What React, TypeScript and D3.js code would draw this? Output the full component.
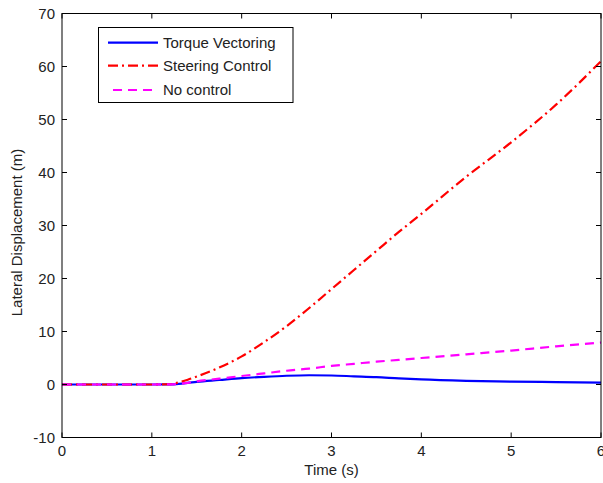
import React from "react";
import * as d3 from "d3";

const time = [0, 0.5, 1.0, 1.2, 1.3, 1.4, 1.5, 1.75, 2.0, 2.25, 2.5, 2.75, 3.0, 3.25, 3.5, 3.75, 4.0, 4.5, 5.0, 5.5, 6.0];
const torqueVectoring = [0, 0, 0, 0.02, 0.12, 0.3, 0.5, 0.85, 1.2, 1.45, 1.65, 1.75, 1.7, 1.55, 1.4, 1.15, 0.95, 0.7, 0.55, 0.45, 0.35];
const steeringControl = [0, 0, 0, 0.05, 0.4, 0.9, 1.5, 3.2, 5.3, 8.0, 11.0, 14.4, 18.0, 21.6, 25.2, 28.8, 32.2, 39.2, 45.7, 52.8, 61.0];
const noControl = [0, 0, 0, 0.02, 0.12, 0.3, 0.6, 1.1, 1.6, 2.1, 2.6, 3.0, 3.5, 3.9, 4.3, 4.65, 5.0, 5.7, 6.4, 7.2, 7.9];
const xTicks = [0, 1, 2, 3, 4, 5, 6];
const yTicks = [-10, 0, 10, 20, 30, 40, 50, 60, 70];
const seriesNames = ["Torque Vectoring", "Steering Control", "No control"];

const W = 603, H = 483;
const L = 62, R = 601, T = 13.5, B = 437.5;
const FONT = "'Liberation Sans', Arial, Helvetica, sans-serif";
const FS = 15;

export default function App() {
  const x = d3.scaleLinear().domain([0, 6]).range([L, R]);
  const y = d3.scaleLinear().domain([-10, 70]).range([B, T]);
  const mk = (vals: number[]) =>
    d3.line<number>().x((_, i) => x(time[i])).y((d) => y(d)).curve(d3.curveMonotoneX)(vals) || "";

  const styles = [
    { color: "#0000ff", dash: "none", data: torqueVectoring },
    { color: "#ff0000", dash: "10,4,2,4", data: steeringControl },
    { color: "#ff00ff", dash: "9,6", data: noControl },
  ];
  const legendY = [42.7, 65.7, 90];

  return (
    <svg width={W} height={H} style={{ position: "absolute", left: 0, top: 0, background: "#fff" }}>
      <defs>
        <clipPath id="plot">
          <rect x={L} y={T} width={R - L} height={B - T} />
        </clipPath>
      </defs>
      <rect x={0} y={0} width={W} height={H} fill="#fff" />
      <g clipPath="url(#plot)">
        {styles.map((s, i) => (
          <path key={i} d={mk(s.data)} fill="none" stroke={s.color} strokeWidth={2.2} strokeDasharray={s.dash} />
        ))}
      </g>
      <rect x={L} y={T} width={R - L} height={B - T} fill="none" stroke="#000" strokeWidth={1} />
      {xTicks.map((t) => (
        <g key={"x" + t}>
          <line x1={x(t)} x2={x(t)} y1={B} y2={B - 5} stroke="#000" />
          <line x1={x(t)} x2={x(t)} y1={T} y2={T + 5} stroke="#000" />
          <text x={x(t)} y={456} textAnchor="middle" fontFamily={FONT} fontSize={FS} fill="#222">
            {t}
          </text>
        </g>
      ))}
      {yTicks.map((t) => (
        <g key={"y" + t}>
          <line x1={L} x2={L + 5} y1={y(t)} y2={y(t)} stroke="#000" />
          <line x1={R} x2={R - 5} y1={y(t)} y2={y(t)} stroke="#000" />
          <text x={55} y={y(t) + 5} textAnchor="end" fontFamily={FONT} fontSize={FS} fill="#222">
            {t}
          </text>
        </g>
      ))}
      <text x={(L + R) / 2} y={475} textAnchor="middle" fontFamily={FONT} fontSize={FS} fill="#222">
        Time (s)
      </text>
      <text
        transform={`translate(22, ${(T + B) / 2 + 7}) rotate(-90)`}
        textAnchor="middle"
        fontFamily={FONT}
        fontSize={FS}
        fill="#222"
      >
        Lateral Displacement (m)
      </text>
      <rect x={98.5} y={27.5} width={194.5} height={75} fill="#fff" stroke="#000" strokeWidth={1} />
      {styles.map((s, i) => (
        <g key={"l" + i}>
          <line
            x1={i === 2 ? 113 : 108}
            x2={158}
            y1={legendY[i]}
            y2={legendY[i]}
            stroke={s.color}
            strokeWidth={2.2}
            strokeDasharray={s.dash}
          />
          <text x={163} y={legendY[i] + 5} fontFamily={FONT} fontSize={FS} fill="#222">
            {seriesNames[i]}
          </text>
        </g>
      ))}
    </svg>
  );
}
